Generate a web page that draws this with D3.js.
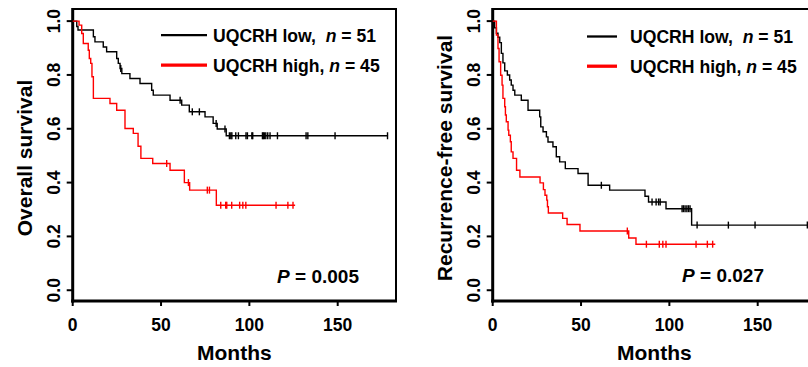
<!DOCTYPE html>
<html>
<head>
<meta charset="utf-8">
<script src="https://cdn.jsdelivr.net/npm/d3@7"></script>
<style>
  body { margin: 0; background: #fff; }
  svg { display: block; font-family: "Liberation Sans", Arial, sans-serif; font-weight: bold; }
  text { white-space: pre; }
</style>
</head>
<body>
<svg id="chart" width="808" height="367"></svg>
<script>
// ---- data (months, survival fraction) ----
const yTicks = [0, 0.2, 0.4, 0.6, 0.8, 1.0];
const xTicks = [0, 50, 100, 150];
const groupLabels = ["UQCRH low,  ", "UQCRH high, "];
const groupN = [51, 45];

// overall survival, low expression
const osLowTimes = [2.3, 3.0, 11.7, 12.6, 17.3, 19.2, 24.9, 25.8, 26.8, 27.8, 32.4, 38.1, 44.7, 45.6, 55.1, 61.7, 66.0, 74.9, 79.5, 81.8, 86.9];
const osLowSurv  = [0.98, 0.967, 0.942, 0.923, 0.904, 0.886, 0.861, 0.843, 0.824, 0.805, 0.787, 0.768, 0.743, 0.725, 0.706, 0.688, 0.663, 0.644, 0.620, 0.599, 0.574];
const osLowCens  = [27.2, 60.8, 67.7, 71.7, 81.2, 86.2, 88.7, 89.5, 90.1, 92.3, 93.8, 98.1, 98.9, 101.4, 101.9, 107.4, 107.9, 108.5, 109.3, 110.4, 111.7, 115.9, 132.1, 133.1, 148.5, 178.2];
const osLowEnd = 178.5;

// overall survival, high expression
const osHighTimes = [3.6, 5.1, 6.0, 8.8, 9.4, 10.2, 10.9, 11.7, 21.1, 24.9, 29.6, 34.3, 37.0, 38.6, 45.3, 55.1, 63.2, 66.2, 81.3];
const osHighSurv  = [0.985, 0.954, 0.917, 0.892, 0.861, 0.843, 0.793, 0.713, 0.694, 0.669, 0.601, 0.583, 0.535, 0.490, 0.471, 0.446, 0.400, 0.372, 0.316];
const osHighCens  = [53.2, 65.5, 76.2, 77.4, 83.8, 86.6, 87.2, 90.0, 94.5, 96.3, 98.0, 115.1, 121.8, 124.7];
const osHighEnd = 125.9;

// recurrence-free survival, low expression
const rfsLowTimes = [1.1, 2.1, 3.0, 4.0, 4.9, 5.8, 6.8, 8.3, 9.6, 10.5, 11.5, 12.5, 16.2, 20.0, 26.6, 27.2, 28.5, 30.4, 31.3, 34.1, 36.0, 37.9, 41.1, 48.3, 54.0, 66.2, 86.2, 88.2, 98.1, 112.6];
const rfsLowSurv  = [0.975, 0.955, 0.94, 0.92, 0.88, 0.845, 0.815, 0.80, 0.781, 0.762, 0.743, 0.725, 0.706, 0.669, 0.644, 0.607, 0.589, 0.570, 0.551, 0.533, 0.496, 0.477, 0.452, 0.434, 0.390, 0.372, 0.349, 0.328, 0.303, 0.242];
const rfsLowCens  = [61.5, 90.2, 92.5, 93.9, 94.8, 107.2, 108.0, 108.9, 109.9, 110.8, 111.7, 115.7, 133.4, 148.5, 178.1];
const rfsLowEnd = 178.3;

// recurrence-free survival, high expression
const rfsHighTimes = [2.1, 3.0, 3.6, 4.5, 5.3, 5.8, 6.8, 7.2, 7.7, 8.7, 9.1, 10.0, 10.5, 11.5, 13.5, 15.4, 26.8, 28.7, 29.6, 30.6, 31.0, 31.5, 39.6, 42.1, 49.4, 77.0, 81.1];
const rfsHighSurv  = [0.948, 0.898, 0.849, 0.799, 0.762, 0.713, 0.682, 0.651, 0.626, 0.595, 0.576, 0.552, 0.514, 0.490, 0.446, 0.421, 0.399, 0.374, 0.353, 0.335, 0.310, 0.287, 0.267, 0.244, 0.220, 0.194, 0.171];
const rfsHighCens  = [76.2, 87.0, 94.3, 96.3, 98.1, 115.1, 121.5, 124.5];
const rfsHighEnd = 126.0;

const colors = ["#000000", "#ff0000"];

const svg = d3.select("#chart");

// step value of a curve at time t
function survAt(times, surv, t) {
    let s = 1;
    for (let i = 0; i < times.length; i++) {
        if (times[i] <= t) s = surv[i];
    }
    return s;
}

function drawPanel(opt) {
    const g = svg.append("g").attr("transform", `translate(${opt.dx},0)`);

    // frame edges
    const left = 72.7, right = 396, top = 9, bottom = 301;
    const x = d3.scaleLinear().domain([0, 183]).range([left, right]);
    const y = d3.scaleLinear().domain([-0.04, 1.045]).range([bottom, top]);

    // box (top/right thinner than axes)
    g.append("path")
        .attr("d", `M${left},${top}H${right}V${bottom}`)
        .attr("fill", "none").attr("stroke", "#000").attr("stroke-width", 2);

    // y axis
    g.append("line").attr("x1", left).attr("x2", left).attr("y1", top - 1).attr("y2", bottom + 1.5)
        .attr("stroke", "#000").attr("stroke-width", 3);
    g.selectAll(".yt").data(yTicks).join("line")
        .attr("x1", left - 6).attr("x2", left).attr("y1", d => y(d)).attr("y2", d => y(d))
        .attr("stroke", "#000").attr("stroke-width", 2);
    g.selectAll(".yl").data(yTicks).join("text")
        .attr("transform", d => `translate(60,${y(d)}) rotate(-90)`)
        .attr("text-anchor", "middle")
        .attr("font-size", 17.5)
        .text(d3.format(".1f"));

    // x axis
    g.append("line").attr("x1", left - 1.5).attr("x2", right + 1).attr("y1", bottom).attr("y2", bottom)
        .attr("stroke", "#000").attr("stroke-width", 3);
    g.selectAll(".xt").data(xTicks).join("line")
        .attr("x1", d => x(d)).attr("x2", d => x(d)).attr("y1", bottom).attr("y2", bottom + 5)
        .attr("stroke", "#000").attr("stroke-width", 2);
    g.selectAll(".xl").data(xTicks).join("text")
        .attr("x", d => x(d)).attr("y", 330.5)
        .attr("text-anchor", "middle")
        .attr("font-size", 17.5)
        .text(d => d);

    // titles
    g.append("text").attr("x", (left + right) / 2).attr("y", 360)
        .attr("text-anchor", "middle").attr("font-size", 21).text("Months");
    g.append("text").attr("transform", `translate(${opt.ytX},158) rotate(-90)`)
        .attr("text-anchor", "middle").attr("font-size", 21).text(opt.yTitle);

    // curves
    const line = d3.line().curve(d3.curveStepAfter).x(d => x(d[0])).y(d => y(d[1]));
    opt.curves.forEach((c, k) => {
        const pts = [[0, 1]].concat(c.times.map((t, i) => [t, c.surv[i]]));
        pts.push([c.end, c.surv[c.surv.length - 1]]);
        g.append("path").attr("d", line(pts))
            .attr("fill", "none").attr("stroke", colors[k]).attr("stroke-width", 1.4);
        g.selectAll(null).data(c.cens).join("line")
            .attr("x1", d => x(d)).attr("x2", d => x(d))
            .attr("y1", d => y(survAt(c.times, c.surv, d)) - 3.5)
            .attr("y2", d => y(survAt(c.times, c.surv, d)) + 3.5)
            .attr("stroke", colors[k]).attr("stroke-width", 1.4);
    });

    // legend
    groupLabels.forEach((lab, k) => {
        const ly = opt.legY[k];
        g.append("line").attr("x1", opt.legX0).attr("x2", opt.legX1).attr("y1", ly - 6.5).attr("y2", ly - 6.5)
            .attr("stroke", colors[k]).attr("stroke-width", k === 0 ? 2.3 : 3.3);
        const t = g.append("text").attr("x", opt.legTx).attr("y", ly).attr("font-size", 17.6);
        t.append("tspan").text(lab);
        t.append("tspan").attr("font-style", "italic").text("n");
        t.append("tspan").text(" = " + groupN[k]);
    });

    // p value
    const p = g.append("text").attr("x", opt.pX).attr("y", opt.pY)
        .attr("text-anchor", "end").attr("font-size", 19);
    p.append("tspan").attr("font-style", "italic").text("P");
    p.append("tspan").text(" = " + opt.pVal);
}

drawPanel({
    dx: 0, yTitle: "Overall survival", ytX: 32,
    curves: [
        { times: osLowTimes, surv: osLowSurv, cens: osLowCens, end: osLowEnd },
        { times: osHighTimes, surv: osHighSurv, cens: osHighCens, end: osHighEnd }
    ],
    legX0: 161, legX1: 207, legTx: 213, legY: [41.7, 71.7],
    pX: 359, pY: 282.7, pVal: "0.005"
});

drawPanel({
    dx: 420, yTitle: "Recurrence-free survival", ytX: 32,
    curves: [
        { times: rfsLowTimes, surv: rfsLowSurv, cens: rfsLowCens, end: rfsLowEnd },
        { times: rfsHighTimes, surv: rfsHighSurv, cens: rfsHighCens, end: rfsHighEnd }
    ],
    legX0: 167, legX1: 197, legTx: 210, legY: [43, 72.7],
    pX: 344, pY: 281.7, pVal: "0.027"
});
</script>
</body>
</html>
